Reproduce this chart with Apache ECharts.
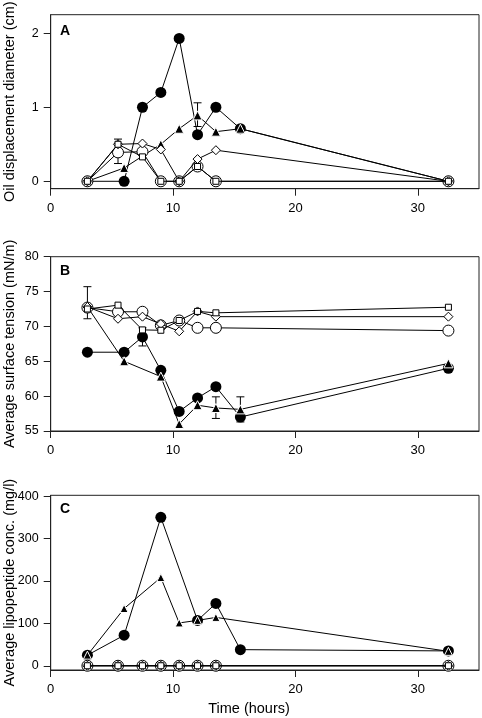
<!DOCTYPE html>
<html><head><meta charset="utf-8">
<script src="https://cdn.jsdelivr.net/npm/echarts@6/dist/echarts.min.js"></script>
<style>html,body{margin:0;padding:0;background:#fff}#c{width:482px;height:718px}</style>
</head><body><div id="c"></div>
<script>
// ---------- shared axis ticks ----------
const timeTicks = [0, 10, 20, 30];
const aTicks = [0, 1, 2];
const bTicks = [55, 60, 65, 70, 75, 80];
const cTicks = [0, 100, 200, 300, 400];

// ---------- Panel A: oil displacement diameter (cm) ----------
const aFilledCircleX = [3, 6, 7.5, 9, 10.5, 12, 13.5, 15.5, 32.5];
const aFilledCircleY = [0, 0, 1.0, 1.2, 1.93, 0.63, 1.0, 0.71, 0];
const aTriangleX = [3, 6, 9, 10.5, 12, 13.5, 15.5, 32.5];
const aTriangleY = [0, 0.18, 0.5, 0.71, 0.89, 0.67, 0.71, 0];
const aOpenX = [3, 5.5, 7.5, 9, 10.5, 12, 13.5, 32.5];
const aOpenCircleY = [0, 0.39, 0.40, 0, 0, 0.2, 0, 0];
const aSquareY = [0, 0.5, 0.33, 0, 0, 0.2, 0, 0];
const aDiamondY = [0, 0.5, 0.51, 0.43, 0, 0.3, 0.42, 0];
const aErrX = [5.5, 12];
const aErrLow = [0.24, 0.74];
const aErrHigh = [0.57, 1.06];

// ---------- Panel B: average surface tension (mN/m) ----------
const bFilledCircleX = [3, 6, 7.5, 9, 10.5, 12, 13.5, 15.5, 32.5];
const bFilledCircleY = [66.3, 66.3, 68.5, 63.7, 57.8, 59.75, 61.35, 57.0, 64.0];
const bTriangleX = [3, 6, 9, 10.5, 12, 13.5, 15.5, 32.5];
const bTriangleY = [72.8, 65.0, 62.8, 56.0, 58.7, 58.3, 58.1, 64.7];
const bOpenX = [3, 5.5, 7.5, 9, 10.5, 12, 13.5, 32.5];
const bOpenCircleY = [72.7, 72.1, 72.1, 70.15, 70.85, 69.8, 69.8, 69.4];
const bSquareY = [72.5, 73.05, 69.5, 69.45, 70.85, 72.15, 71.95, 72.75];
const bDiamondY = [72.8, 71.1, 71.4, 70.35, 69.3, 72.15, 71.4, 71.4];
const bErrX = [3, 7.5, 13.5, 15.5];
const bErrLow = [71.1, 67.2, 56.8, 56.3];
const bErrHigh = [75.7, 69.8, 59.9, 59.9];

// ---------- Panel C: average lipopeptide conc. (mg/l) ----------
const cFilledCircleX = [3, 6, 9, 12, 13.5, 15.5, 32.5];
const cFilledCircleY = [25, 72, 350, 107, 147, 38, 35];
const cTriangleX = [3, 6, 9, 10.5, 12, 13.5, 32.5];
const cTriangleY = [25, 135, 208, 101, 107, 114, 34];
const cOpenX = [3, 5.5, 7.5, 9, 10.5, 12, 13.5, 32.5];
const cOpenCircleY = [0, 0, 0, 0, 0, 0, 0, 0];
const cSquareY = [0, 0, 0, 0, 0, 0, 0, 0];
const cDiamondY = [0, 0, 0, 0, 0, 0, 0, 0];

const FONT = "'Liberation Sans', Arial, Helvetica, sans-serif";
const zip = (xs, ys) => xs.map((x, i) => [x, ys[i]]);
const zip3 = (xs, lo, hi) => xs.map((x, i) => [x, lo[i], hi[i]]);

const grids = [
  { left: 50.7, top: 14.7, width: 428.3, height: 174 },
  { left: 50.7, top: 256.7, width: 428.3, height: 174.3 },
  { left: 50.7, top: 495.3, width: 428.3, height: 174.7 }
].map(g => Object.assign({ show: true, borderColor: '#222', borderWidth: 1, backgroundColor: 'transparent',
  containLabel: false, outerBoundsMode: 'none' }, g));

function xAxis(i) {
  return {
    type: 'value', gridIndex: i, min: 0, max: 35,
    axisLine: { show: true, onZero: false, lineStyle: { color: '#222', width: 1 } },
    axisTick: { show: true, length: 7, customValues: timeTicks, lineStyle: { color: '#222' } },
    axisLabel: { customValues: timeTicks, margin: 13, color: '#000', fontSize: 13, fontFamily: FONT },
    splitLine: { show: false }
  };
}
function yAxis(i, min, max, ticks, name) {
  return {
    type: 'value', gridIndex: i, min: min, max: max,
    name: name, nameLocation: 'middle', nameGap: 33, nameMoveOverlap: false,
    nameTextStyle: { color: '#000', fontSize: 14.5, fontFamily: FONT },
    axisLine: { show: true, onZero: false, lineStyle: { color: '#222', width: 1 } },
    axisTick: { show: true, length: 7, customValues: ticks, lineStyle: { color: '#222' } },
    axisLabel: { customValues: ticks, margin: 12, color: '#000', fontSize: 12.5, fontFamily: FONT },
    splitLine: { show: false }
  };
}

const lineStyle = { color: '#000', width: 1 };
function filledCircle(i, data) {
  return { type: 'line', xAxisIndex: i, yAxisIndex: i, data, symbol: 'circle', symbolSize: 11,
    itemStyle: { color: '#000', borderColor: '#000', borderWidth: 0 }, lineStyle, z: 3, animation: false };
}
function triangle(i, data, size) {
  return { type: 'line', xAxisIndex: i, yAxisIndex: i, data, symbol: 'triangle', symbolSize: size,
    itemStyle: { color: '#000', borderColor: '#fff', borderWidth: 1 }, lineStyle, z: 4, animation: false };
}
function openCircle(i, data) {
  return { type: 'line', xAxisIndex: i, yAxisIndex: i, data, symbol: 'circle', symbolSize: 11,
    itemStyle: { color: '#fff', borderColor: '#000', borderWidth: 1 }, lineStyle, z: 5, animation: false };
}
function diamond(i, data) {
  return { type: 'line', xAxisIndex: i, yAxisIndex: i, data, symbol: 'diamond', symbolSize: 9,
    itemStyle: { color: '#fff', borderColor: '#000', borderWidth: 1 }, lineStyle, z: 6, animation: false };
}
function square(i, data) {
  return { type: 'line', xAxisIndex: i, yAxisIndex: i, data, symbol: 'rect', symbolSize: 6,
    itemStyle: { color: '#fff', borderColor: '#000', borderWidth: 1 }, lineStyle, z: 7, animation: false };
}
function errBars(i, data) {
  return {
    type: 'custom', xAxisIndex: i, yAxisIndex: i, data, z: 1, animation: false,
    encode: { x: 0, y: [1, 2] },
    renderItem: function (params, api) {
      const x = api.value(0);
      const lo = api.coord([x, api.value(1)]);
      const hi = api.coord([x, api.value(2)]);
      const w = 4;
      const st = { stroke: '#000', lineWidth: 1 };
      return { type: 'group', children: [
        { type: 'line', shape: { x1: lo[0], y1: lo[1], x2: hi[0], y2: hi[1] }, style: st },
        { type: 'line', shape: { x1: lo[0] - w, y1: lo[1], x2: lo[0] + w, y2: lo[1] }, style: st },
        { type: 'line', shape: { x1: hi[0] - w, y1: hi[1], x2: hi[0] + w, y2: hi[1] }, style: st }
      ] };
    }
  };
}

const chart = echarts.init(document.getElementById('c'), null, { renderer: 'canvas' });
chart.setOption({
  animation: false,
  backgroundColor: '#fff',
  grid: grids,
  xAxis: [xAxis(0), xAxis(1), xAxis(2)],
  yAxis: [
    yAxis(0, -0.1, 2.25, aTicks, 'Oil displacement diameter (cm)'),
    yAxis(1, 55, 80, bTicks, 'Average surface tension (mN/m)'),
    yAxis(2, -10, 402, cTicks, 'Average lipopeptide conc. (mg/l)')
  ],
  graphic: [
    { type: 'text', x: 60, y: 31.5, style: { text: 'A', font: 'bold 14px ' + FONT, fill: '#000', textVerticalAlign: 'middle' } },
    { type: 'text', x: 60, y: 271.3, style: { text: 'B', font: 'bold 14px ' + FONT, fill: '#000', textVerticalAlign: 'middle' } },
    { type: 'text', x: 60, y: 509, style: { text: 'C', font: 'bold 14px ' + FONT, fill: '#000', textVerticalAlign: 'middle' } },
    { type: 'text', x: 249, y: 709, style: { text: 'Time (hours)', font: '14.5px ' + FONT, fill: '#000', textAlign: 'center', textVerticalAlign: 'middle' } }
  ],
  series: [
    errBars(0, zip3(aErrX, aErrLow, aErrHigh)),
    filledCircle(0, zip(aFilledCircleX, aFilledCircleY)),
    triangle(0, zip(aTriangleX, aTriangleY), 9),
    openCircle(0, zip(aOpenX, aOpenCircleY)),
    diamond(0, zip(aOpenX, aDiamondY)),
    square(0, zip(aOpenX, aSquareY)),

    errBars(1, zip3(bErrX, bErrLow, bErrHigh)),
    filledCircle(1, zip(bFilledCircleX, bFilledCircleY)),
    triangle(1, zip(bTriangleX, bTriangleY), 9),
    openCircle(1, zip(bOpenX, bOpenCircleY)),
    diamond(1, zip(bOpenX, bDiamondY)),
    square(1, zip(bOpenX, bSquareY)),

    filledCircle(2, zip(cFilledCircleX, cFilledCircleY)),
    triangle(2, zip(cTriangleX, cTriangleY), 8),
    openCircle(2, zip(cOpenX, cOpenCircleY)),
    diamond(2, zip(cOpenX, cDiamondY)),
    square(2, zip(cOpenX, cSquareY))
  ]
});
</script>
</body></html>
